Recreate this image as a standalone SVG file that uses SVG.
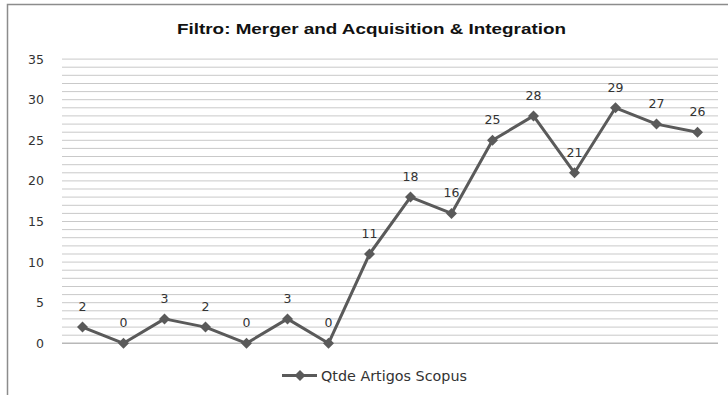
<svg xmlns="http://www.w3.org/2000/svg" xmlns:xlink="http://www.w3.org/1999/xlink" width="728" height="395" viewBox="0 0 728 395">
  <style>
    .frame { fill: none; stroke: #8c8c8c; stroke-width: 1.5; }
    .grid { fill: none; stroke: #c9c9c9; stroke-width: 1; }
    .axis0 { fill: none; stroke: #b8b8b8; stroke-width: 1.5; }
    .title { font-family: "Liberation Sans", "DejaVu Sans", sans-serif; font-weight: bold; font-size: 15px; fill: #111; }
    .tick { font-family: "DejaVu Sans", "Liberation Sans", sans-serif; font-size: 12.5px; fill: #333; text-anchor: end; }
    .val { font-family: "DejaVu Sans", "Liberation Sans", sans-serif; font-size: 12.5px; fill: #333; text-anchor: middle; }
    .legend { font-family: "DejaVu Sans", "Liberation Sans", sans-serif; font-size: 13.5px; fill: #333; }
    .series { fill: none; stroke: #5a5a5a; stroke-width: 3; stroke-linejoin: round; }
    .mk { fill: #5a5a5a; }
  </style>
  <defs>
    <path id="diamond" d="M0,-5.5 L5.5,0 L0,5.5 L-5.5,0 Z"/>
  </defs>

  <rect width="728" height="395" fill="#ffffff"/>
  <!-- chart frame (top and left edges visible) -->
  <path class="frame" d="M7.5,395 V4.5 H728"/>

  <!-- title -->
  <g id="title">
    <text class="title" x="371.5" y="34" text-anchor="middle" textLength="389" lengthAdjust="spacingAndGlyphs">Filtro: Merger and Acquisition &amp; Integration</text>
  </g>

  <!-- horizontal gridlines, one per unit -->
  <g id="gridlines">
    <path class="grid" d="M62,335.2H718M62,327.1H718M62,318.9H718M62,310.8H718M62,302.7H718M62,294.6H718M62,286.5H718M62,278.3H718M62,270.2H718M62,262.1H718M62,254H718M62,245.9H718M62,237.7H718M62,229.6H718M62,221.5H718M62,213.4H718M62,205.3H718M62,197.1H718M62,189H718M62,180.9H718M62,172.8H718M62,164.7H718M62,156.5H718M62,148.4H718M62,140.3H718M62,132.2H718M62,124.1H718M62,115.9H718M62,107.8H718M62,99.7H718M62,91.6H718M62,83.5H718M62,75.3H718M62,67.2H718M62,59.1H718"/>
    <path class="axis0" d="M62,343.3H718"/>
  </g>

  <!-- value axis labels -->
  <g id="y-axis">
    <text class="tick" x="44" y="347.8">0</text>
    <text class="tick" x="44" y="307.2">5</text>
    <text class="tick" x="44" y="266.6">10</text>
    <text class="tick" x="44" y="226">15</text>
    <text class="tick" x="44" y="185.4">20</text>
    <text class="tick" x="44" y="144.8">25</text>
    <text class="tick" x="44" y="104.2">30</text>
    <text class="tick" x="44" y="63.6">35</text>
  </g>

  <!-- series line -->
  <g id="connectors">
    <polyline class="series" points="82.5,327.1 123.5,343.3 164.5,318.9 205.5,327.1 246.5,343.3 287.5,318.9 328.5,343.3 369.5,254 410.5,197.1 451.5,213.4 492.5,140.3 533.5,115.9 574.5,172.8 615.5,107.8 656.5,124.1 697.5,132.2"/>
  </g>

  <!-- data points with value labels -->
  <g id="p01"><use class="mk" xlink:href="#diamond" x="82.5" y="327.1"/><text class="val" x="82.5" y="311">2</text></g>
  <g id="p02"><use class="mk" xlink:href="#diamond" x="123.5" y="343.3"/><text class="val" x="123.5" y="327.3">0</text></g>
  <g id="p03"><use class="mk" xlink:href="#diamond" x="164.5" y="318.9"/><text class="val" x="164.5" y="302.9">3</text></g>
  <g id="p04"><use class="mk" xlink:href="#diamond" x="205.5" y="327.1"/><text class="val" x="205.5" y="311">2</text></g>
  <g id="p05"><use class="mk" xlink:href="#diamond" x="246.5" y="343.3"/><text class="val" x="246.5" y="327.3">0</text></g>
  <g id="p06"><use class="mk" xlink:href="#diamond" x="287.5" y="318.9"/><text class="val" x="287.5" y="302.9">3</text></g>
  <g id="p07"><use class="mk" xlink:href="#diamond" x="328.5" y="343.3"/><text class="val" x="328.5" y="327.3">0</text></g>
  <g id="p08"><use class="mk" xlink:href="#diamond" x="369.5" y="254"/><text class="val" x="369.5" y="238">11</text></g>
  <g id="p09"><use class="mk" xlink:href="#diamond" x="410.5" y="197.1"/><text class="val" x="410.5" y="181.1">18</text></g>
  <g id="p10"><use class="mk" xlink:href="#diamond" x="451.5" y="213.4"/><text class="val" x="451.5" y="197.4">16</text></g>
  <g id="p11"><use class="mk" xlink:href="#diamond" x="492.5" y="140.3"/><text class="val" x="492.5" y="124.3">25</text></g>
  <g id="p12"><use class="mk" xlink:href="#diamond" x="533.5" y="115.9"/><text class="val" x="533.5" y="99.9">28</text></g>
  <g id="p13"><use class="mk" xlink:href="#diamond" x="574.5" y="172.8"/><text class="val" x="574.5" y="156.8">21</text></g>
  <g id="p14"><use class="mk" xlink:href="#diamond" x="615.5" y="107.8"/><text class="val" x="615.5" y="91.8">29</text></g>
  <g id="p15"><use class="mk" xlink:href="#diamond" x="656.5" y="124.1"/><text class="val" x="656.5" y="108.1">27</text></g>
  <g id="p16"><use class="mk" xlink:href="#diamond" x="697.5" y="132.2"/><text class="val" x="697.5" y="116.2">26</text></g>

  <!-- legend -->
  <g id="legend">
    <path class="series" d="M282,375.5H317"/>
    <use class="mk" xlink:href="#diamond" x="300" y="375.5"/>
    <text class="legend" x="321" y="380.5" textLength="146" lengthAdjust="spacingAndGlyphs">Qtde Artigos Scopus</text>
  </g>
</svg>
